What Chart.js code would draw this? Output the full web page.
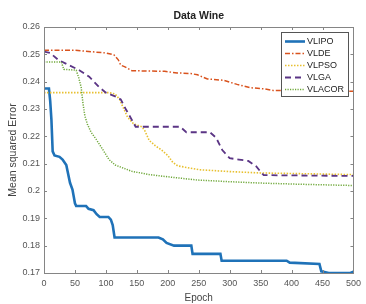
<!DOCTYPE html>
<html>
<head>
<meta charset="utf-8">
<script src="https://cdn.jsdelivr.net/npm/chart.js@4.4.1/dist/chart.umd.min.js"></script>
<style>
  html, body { margin: 0; padding: 0; background: #fff; }
  #wrap { position: relative; width: 366px; height: 304px; }
</style>
</head>
<body>
<div id="wrap"><canvas id="c"></canvas></div>
<script>
// valeurs (Epoch / Mean squared Error)
const xTicks = [0, 50, 100, 150, 200, 250, 300, 350, 400, 450, 500];
const yTicks = [0.17, 0.18, 0.19, 0.2, 0.21, 0.22, 0.23, 0.24, 0.25, 0.26];
const seriesNames = ["VLIPO", "VLDE", "VLPSO", "VLGA", "VLACOR"];

const vlipoEpoch = [0, 8, 10, 12, 14, 17, 25, 30, 36, 42, 46, 50, 52, 68, 72, 80, 85, 90, 104, 108, 111, 114, 185, 192, 198, 210, 238, 240, 285, 287, 392, 397, 445, 448, 460, 495, 500];
const vlipoMse   = [0.2375, 0.2375, 0.233, 0.226, 0.2145, 0.213, 0.2125, 0.2115, 0.2095, 0.203, 0.2005, 0.1955, 0.1945, 0.1945, 0.1935, 0.193, 0.1915, 0.1905, 0.1905, 0.1895, 0.1875, 0.183, 0.183, 0.1823, 0.181, 0.18, 0.18, 0.177, 0.177, 0.1745, 0.1745, 0.1738, 0.1733, 0.1706, 0.17, 0.17, 0.1705];

const vldeEpoch = [0, 50, 100, 113, 120, 124, 130, 142, 195, 215, 237, 248, 264, 290, 312, 333, 355, 370, 500];
const vldeMse   = [0.2515, 0.2515, 0.2505, 0.2498, 0.248, 0.246, 0.2455, 0.244, 0.2438, 0.2432, 0.243, 0.2425, 0.241, 0.2405, 0.239, 0.2378, 0.2374, 0.2368, 0.2365];

const vlpsoEpoch = [0, 105, 115, 122, 128, 135, 145, 158, 163, 170, 180, 190, 200, 208, 216, 250, 300, 350, 500];
const vlpsoMse   = [0.236, 0.236, 0.2355, 0.2335, 0.2305, 0.227, 0.2245, 0.2235, 0.222, 0.2185, 0.2165, 0.215, 0.213, 0.2105, 0.2092, 0.2078, 0.2071, 0.2066, 0.206];

const vlgaEpoch = [0, 10, 23, 38, 57, 73, 89, 100, 116, 124, 132, 142, 148, 220, 230, 268, 278, 288, 300, 315, 330, 343, 350, 355, 400, 500];
const vlgaMse   = [0.251, 0.2505, 0.248, 0.2463, 0.2442, 0.2418, 0.238, 0.236, 0.2345, 0.2335, 0.23, 0.226, 0.2235, 0.2235, 0.2215, 0.2215, 0.2195, 0.215, 0.212, 0.2115, 0.211, 0.209, 0.207, 0.2058, 0.2057, 0.2055];

const vlacorEpoch = [0, 28, 32, 52, 56, 60, 63, 66, 70, 76, 84, 94, 105, 115, 142, 170, 196, 248, 300, 350, 408, 500];
const vlacorMse   = [0.2472, 0.2472, 0.2445, 0.2442, 0.2415, 0.238, 0.232, 0.2275, 0.2245, 0.2215, 0.219, 0.2155, 0.2115, 0.2095, 0.2072, 0.206, 0.2053, 0.204, 0.2034, 0.2029, 0.2025, 0.202];

function pts(xs, ys) { return xs.map((x, i) => ({ x: x, y: ys[i] })); }

const styles = [
  { color: "#1f72b8", width: 2.6, dash: [] },
  { color: "#d9531e", width: 1.5, dash: [5, 2, 1.5, 2] },
  { color: "#e8c030", width: 1.6, dash: [1.5, 1.5] },
  { color: "#5b3585", width: 1.8, dash: [6, 4] },
  { color: "#6fa83a", width: 1.5, dash: [1.2, 1.3] }
];
const allData = [pts(vlipoEpoch, vlipoMse), pts(vldeEpoch, vldeMse), pts(vlpsoEpoch, vlpsoMse), pts(vlgaEpoch, vlgaMse), pts(vlacorEpoch, vlacorMse)];

const datasets = seriesNames.map((n, i) => ({
  label: n, data: allData[i],
  borderColor: styles[i].color, borderWidth: styles[i].width, borderDash: styles[i].dash,
  pointRadius: 0, tension: 0, fill: false
})).reverse(); // VLIPO dessiné en dernier (au-dessus)

// ticks vers l'intérieur + cadre + titre + légende façon matlab
const boxPlugin = {
  id: "boxPlugin",
  afterDraw(chart) {
    const ctx = chart.ctx, a = chart.chartArea, sx = chart.scales.x, sy = chart.scales.y;
    ctx.save();
    ctx.strokeStyle = "#858585"; ctx.lineWidth = 1;
    ctx.strokeRect(Math.round(a.left) + 0.5, Math.round(a.top) + 0.5, Math.round(a.right - a.left), Math.round(a.bottom - a.top));
    ctx.beginPath();
    xTicks.forEach(v => {
      const px = Math.round(sx.getPixelForValue(v)) + 0.5;
      ctx.moveTo(px, a.bottom); ctx.lineTo(px, a.bottom - 3);
      ctx.moveTo(px, a.top); ctx.lineTo(px, a.top + 3);
    });
    yTicks.forEach(v => {
      const py = Math.round(sy.getPixelForValue(v)) + 0.5;
      ctx.moveTo(a.left, py); ctx.lineTo(a.left + 3, py);
      ctx.moveTo(a.right, py); ctx.lineTo(a.right - 3, py);
    });
    ctx.stroke();

    // titre
    ctx.fillStyle = "#222";
    ctx.font = "bold 10.5px 'Liberation Sans', Arial, sans-serif";
    ctx.textAlign = "center"; ctx.textBaseline = "middle";
    ctx.fillText("Data Wine", (a.left + a.right) / 2, 16);

    // légende
    const lx = 281, ly = 32, lw = 67, lh = 64;
    ctx.fillStyle = "#fff"; ctx.fillRect(lx, ly, lw, lh);
    ctx.strokeStyle = "#555"; ctx.lineWidth = 1;
    ctx.strokeRect(lx + 0.5, ly + 0.5, lw, lh);
    ctx.font = "9px 'Liberation Sans', Arial, sans-serif";
    ctx.textAlign = "left";
    seriesNames.forEach((n, i) => {
      const y = 41.5 + i * 12;
      ctx.strokeStyle = styles[i].color; ctx.lineWidth = styles[i].width;
      ctx.setLineDash(styles[i].dash);
      ctx.beginPath(); ctx.moveTo(285, y); ctx.lineTo(305, y); ctx.stroke();
      ctx.setLineDash([]);
      ctx.fillStyle = "#222";
      ctx.fillText(n, 307, y + 0.5);
    });
    ctx.restore();
  }
};

new Chart(document.getElementById("c"), {
  type: "line",
  data: { datasets: datasets },
  options: {
    responsive: true, maintainAspectRatio: false, animation: false,
    layout: { padding: { top: 27, right: 9, bottom: 0, left: 0 } },
    plugins: { legend: { display: false }, title: { display: false }, tooltip: { enabled: false } },
    scales: {
      x: {
        type: "linear", min: 0, max: 500,
        afterBuildTicks: s => { s.ticks = xTicks.map(v => ({ value: v })); },
        afterFit: s => { s.height = 31; },
        grid: { display: false, drawTicks: false }, border: { display: false },
        ticks: { padding: 5, color: "#555", font: { size: 9, family: "'Liberation Sans', Arial" }, maxRotation: 0 },
        title: { display: true, text: "Epoch", color: "#444", padding: { top: 0, bottom: 0 }, font: { size: 10, family: "'Liberation Sans', Arial" } }
      },
      y: {
        type: "linear", min: 0.17, max: 0.26,
        afterBuildTicks: s => { s.ticks = yTicks.map(v => ({ value: v })); },
        afterFit: s => { s.width = 44; },
        grid: { display: false, drawTicks: false }, border: { display: false },
        ticks: { padding: 4, color: "#555", font: { size: 9, family: "'Liberation Sans', Arial" }, callback: v => String(+v.toFixed(2)) },
        title: { display: true, text: "Mean squared Error", color: "#444", padding: { top: 7, bottom: 0 }, font: { size: 10.5, family: "'Liberation Sans', Arial" } }
      }
    }
  },
  plugins: [boxPlugin]
});
</script>
</body>
</html>
